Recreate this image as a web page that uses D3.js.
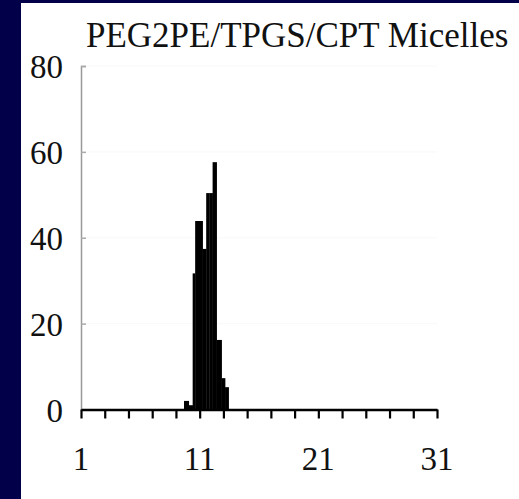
<!DOCTYPE html>
<html>
<head>
<meta charset="utf-8">
<script src="https://cdn.jsdelivr.net/npm/d3@7"></script>
<style>
  body { margin: 0; background: #03004a; }
  #chart { width: 519px; height: 499px; }
  text { font-family: "Liberation Serif", "Times New Roman", serif; fill: #111; }
</style>
</head>
<body>
<div id="chart"></div>
<script>
//////////////////////////////////////////////
// Data //////////////////////////////////////
//////////////////////////////////////////////
var title = "PEG2PE/TPGS/CPT Micelles";

// bin edges (size), one more than the counts
var binEdges = [9.68, 10.08, 10.41, 10.62, 10.94, 11.25, 11.55, 11.82, 12.09, 12.43, 12.85, 13.14, 13.44];
var counts   = [2, 1, 31.7, 43.9, 43.9, 37.4, 50.4, 50.4, 57.6, 16.2, 7.3, 5.2];

var xTickLabels = [1, 11, 21, 31];
var xMinorTicks = [1, 3, 5, 7, 9, 11, 13, 15, 17, 19, 21, 23, 25, 27, 29, 31];
var yTickLabels = [0, 20, 40, 60, 80];

var bins = counts.map(function(c, i) {
  return {x0: binEdges[i], x1: binEdges[i + 1], value: c};
});

//////////////////////////////////////////////
// Chart Config /////////////////////////////
//////////////////////////////////////////////
var W = 519, H = 499;
var panel = {left: 21, top: 3};
var plot = {left: 81, right: 437, top: 66, bottom: 409.5};

var xScale = d3.scaleLinear().domain([1, 31]).range([plot.left, plot.right]);
var yScale = d3.scaleLinear().domain([0, 80]).range([plot.bottom, plot.top]);

var svg = d3.select("#chart").append("svg")
    .attr("width", W)
    .attr("height", H);

// navy frame + white panel
svg.append("rect").attr("width", W).attr("height", H).attr("fill", "#03004a");
svg.append("rect")
    .attr("x", panel.left).attr("y", panel.top)
    .attr("width", W - panel.left).attr("height", H - panel.top)
    .attr("fill", "#fff");

// very faint grid lines
svg.append("g").selectAll("line")
    .data(yTickLabels.slice(1))
  .enter().append("line")
    .attr("x1", plot.left).attr("x2", plot.right)
    .attr("y1", function(d) { return yScale(d); })
    .attr("y2", function(d) { return yScale(d); })
    .attr("stroke", "#f8f8f8")
    .attr("stroke-width", 1);

//////////////////////////////////////////////
// Drawing ///////////////////////////////////
//////////////////////////////////////////////

// Y axis (thin grey, short inner ticks)
var yAxis = d3.axisRight(yScale)
    .tickValues(yTickLabels)
    .tickSize(5)
    .tickFormat("");
var yAxisEl = svg.append("g")
    .attr("transform", "translate(" + plot.left + ",0)")
    .call(yAxis);
yAxisEl.select(".domain").attr("stroke", "#999").attr("stroke-width", 1.5);
yAxisEl.selectAll(".tick line").attr("stroke", "#aaa").attr("stroke-width", 1.5);

// y labels
svg.append("g").selectAll("text")
    .data(yTickLabels)
  .enter().append("text")
    .attr("x", 63)
    .attr("y", function(d) { return yScale(d) + 12; })
    .attr("text-anchor", "end")
    .style("font-size", "33px")
    .text(function(d) { return d; });

// bars
svg.append("g").selectAll("rect")
    .data(bins)
  .enter().append("rect")
    .attr("x", function(d) { return xScale(d.x0); })
    .attr("width", function(d) { return xScale(d.x1) - xScale(d.x0) + 0.3; })
    .attr("y", function(d) { return yScale(d.value); })
    .attr("height", function(d) { return yScale(0) - yScale(d.value); })
    .attr("fill", "#000");

// X axis (black, ticks every 2)
var xAxis = d3.axisBottom(xScale)
    .tickValues(xMinorTicks)
    .tickSize(9)
    .tickSizeOuter(0)
    .tickFormat("");
var xAxisEl = svg.append("g")
    .attr("transform", "translate(0," + plot.bottom + ")")
    .call(xAxis);
xAxisEl.select(".domain").attr("stroke", "#000").attr("stroke-width", 2.5);
xAxisEl.selectAll(".tick line").attr("stroke", "#000").attr("stroke-width", 2.2);

// x labels
svg.append("g").selectAll("text")
    .data(xTickLabels)
  .enter().append("text")
    .attr("x", function(d) { return xScale(d); })
    .attr("y", 470)
    .attr("text-anchor", "middle")
    .style("font-size", "33px")
    .text(function(d) { return d; });

// title
svg.append("text")
    .attr("x", 86)
    .attr("y", 47)
    .style("font-size", "35px")
    .text(title);
</script>
</body>
</html>
